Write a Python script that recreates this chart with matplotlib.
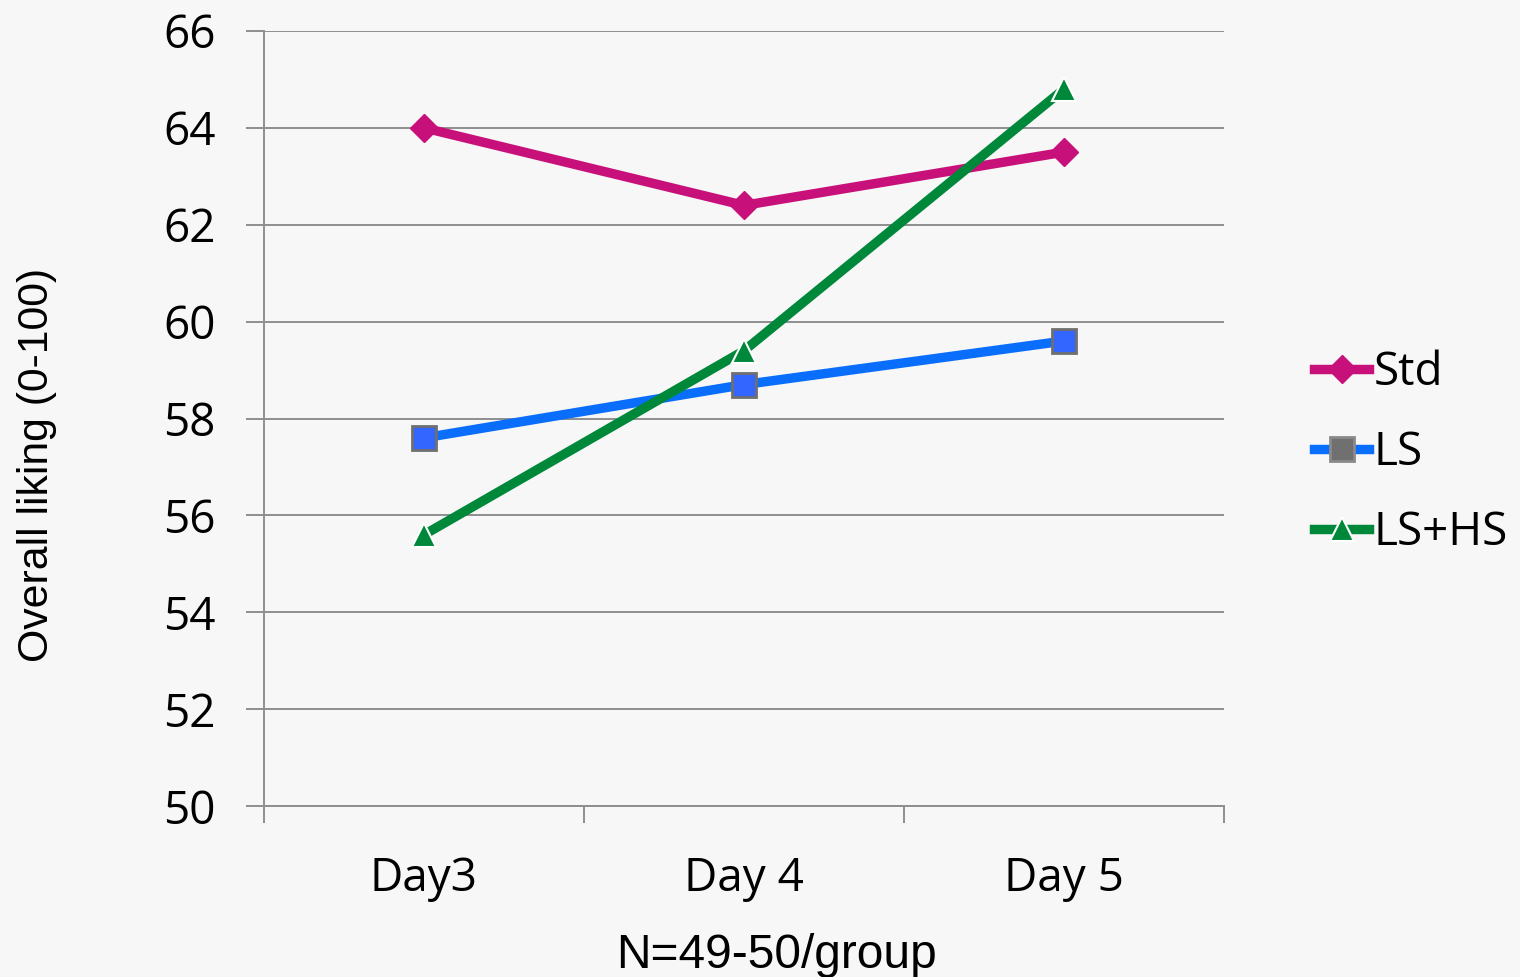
import matplotlib
matplotlib.use("Agg")
import matplotlib.pyplot as plt
from matplotlib.lines import Line2D

# === Data ===
days = ["Day3", "Day 4", "Day 5"]
std_vals = [64.0, 62.4, 63.5]
ls_vals = [57.6, 58.7, 59.6]
lshs_vals = [55.6, 59.4, 64.8]
y_ticks = [50, 52, 54, 56, 58, 60, 62, 64, 66]

# === Styles ===
bg = "#f7f7f7"
grid_col = "#8f8f8f"
c_std = "#c8107a"
c_ls_line = "#0a6efc"
c_ls_mark = "#3366ff"
c_lshs = "#00883a"
tick_font = "Open Sans"
label_font = "Liberation Sans"

fig = plt.figure(figsize=(15.2, 9.77), dpi=100, facecolor=bg)
ax = fig.add_axes([264 / 1520, 1 - 806 / 977, 960 / 1520, 775 / 977], facecolor=bg)

x = range(len(days))
ax.plot(x, std_vals, color=c_std, lw=6.8, marker="D", ms=14,
        mfc=c_std, mec=c_std, mew=1, zorder=3)
ax.plot(x, ls_vals, color=c_ls_line, lw=6.8, marker="s", ms=17,
        mfc=c_ls_mark, mec="#6f6f6f", mew=2, zorder=3)
ax.plot(x, lshs_vals, color=c_lshs, lw=6.8, marker="^", ms=17,
        mfc=c_lshs, mec="white", mew=1.5, zorder=4)

ax.set_xlim(-0.5, len(days) - 0.5)
ax.set_ylim(50, 66)
ax.set_yticks(y_ticks)
ax.set_yticklabels([str(v) for v in y_ticks], fontname=tick_font, fontsize=33)
ax.set_xticks(list(x))
ax.set_xticklabels(days, fontname=tick_font, fontsize=33)
ax.set_xticks([i - 0.5 for i in range(len(days) + 1)], minor=True)
ax.tick_params(axis="x", which="major", length=0, pad=36)
ax.tick_params(axis="x", which="minor", length=12, width=1.4, color=grid_col)
ax.tick_params(axis="y", length=13, width=1.4, color=grid_col, pad=22)

ax.grid(axis="y", color=grid_col, lw=1.4, zorder=0)
ax.set_axisbelow(True)
for s in ["top", "right"]:
    ax.spines[s].set_visible(False)
for s in ["left", "bottom"]:
    ax.spines[s].set_color(grid_col)
    ax.spines[s].set_linewidth(1.4)

fig.text(37 / 1520, 1 - 465 / 977, "Overall liking (0-100)", rotation=90,
         ha="center", va="center", fontname=label_font, fontsize=30.8)
fig.text(777 / 1520, 1 - 955 / 977, "N=49-50/group", ha="center", va="center",
         fontname=label_font, fontsize=34.5)

handles = [
    Line2D([], [], color=c_std, lw=6.8, marker="D", ms=14, mfc=c_std, mec=c_std),
    Line2D([], [], color=c_ls_line, lw=6.8, marker="s", ms=17, mfc="#707070", mec="#8a8a8a", mew=2),
    Line2D([], [], color=c_lshs, lw=6.8, marker="^", ms=17, mfc=c_lshs, mec="white", mew=1.5),
]
leg = fig.legend(handles, ["Std", "LS", "LS+HS"], loc="center left",
                 bbox_to_anchor=(1296 / 1520, 1 - 453 / 977), frameon=False,
                 prop={"family": tick_font, "size": 33}, handlelength=1.2,
                 handletextpad=0.1, labelspacing=0.75, borderaxespad=0)

fig.savefig("out.png", dpi=100, facecolor=bg)
